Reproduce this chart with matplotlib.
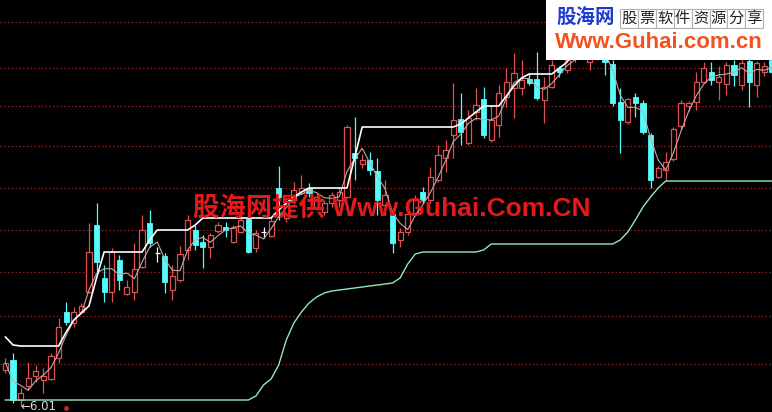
import numpy as np
import pandas as pd
import matplotlib
matplotlib.use("Agg")
import matplotlib.pyplot as plt
from matplotlib.patches import Rectangle

# daily bars: open, high, low, close
opens = [6.37, 6.47, 6.07, 6.21, 6.31, 6.27, 6.28, 6.49, 6.95, 6.84,
         6.95, 7.15, 7.82, 7.29, 7.15, 7.47, 7.13, 7.15, 7.40, 7.84,
         7.54, 7.51, 7.17, 7.27, 7.57, 7.77, 7.65, 7.60, 7.76, 7.80,
         7.65, 7.75, 7.88, 7.59, 7.75, 7.71, 8.19, 7.89, 8.07, 8.14,
         8.19, 8.00, 7.95, 8.04, 8.07, 8.10, 8.54, 8.43, 8.47, 8.36,
         8.02, 7.93, 7.67, 7.75, 7.94, 8.15, 8.07, 8.27, 8.49, 8.72,
         8.88, 8.64, 8.95, 9.08, 8.67, 8.82, 9.10, 9.19, 9.19, 9.28,
         9.28, 9.07, 9.20, 9.39, 9.37, 9.49, 9.55, 9.45, 9.51, 9.57,
         9.43, 9.05, 8.85, 9.10, 9.04, 8.72, 8.30, 8.37, 8.48, 8.81,
         9.01, 9.05, 9.25, 9.35, 9.25, 9.23, 9.42, 9.22, 9.46, 9.22,
         9.35, 9.47]
highs = [6.49, 6.54, 6.19, 6.45, 6.42, 6.39, 6.54, 6.89, 7.05, 7.00,
         7.04, 7.84, 8.04, 7.42, 7.59, 7.52, 7.27, 7.64, 7.92, 7.97,
         7.60, 7.54, 7.42, 7.61, 7.92, 7.82, 7.72, 7.74, 7.85, 7.85,
         7.82, 7.92, 7.90, 7.77, 7.80, 7.90, 8.41, 8.07, 8.25, 8.32,
         8.24, 8.14, 8.07, 8.15, 8.20, 8.82, 8.90, 8.53, 8.55, 8.49,
         8.27, 7.99, 7.79, 7.97, 8.12, 8.20, 8.40, 8.62, 8.67, 9.24,
         9.14, 8.97, 9.19, 9.20, 9.02, 9.22, 9.39, 9.54, 9.47, 9.34,
         9.55, 9.30, 9.47, 9.41, 9.50, 9.65, 9.72, 9.62, 9.67, 9.62,
         9.47, 9.19, 9.09, 9.14, 9.07, 8.74, 8.41, 8.55, 8.80, 9.07,
         9.06, 9.35, 9.45, 9.45, 9.41, 9.45, 9.47, 9.50, 9.50, 9.46,
         9.45, 9.50]
lows = [6.34, 6.04, 6.01, 6.17, 6.25, 6.14, 6.27, 6.44, 6.82, 6.80,
        6.94, 7.14, 7.35, 7.05, 7.05, 7.17, 7.12, 7.07, 7.39, 7.60,
        7.45, 7.14, 7.07, 7.25, 7.47, 7.57, 7.39, 7.49, 7.74, 7.70,
        7.64, 7.74, 7.54, 7.55, 7.69, 7.70, 7.87, 7.85, 8.03, 8.13,
        8.10, 7.97, 7.92, 8.00, 8.00, 8.09, 8.27, 8.39, 8.32, 7.92,
        7.92, 7.54, 7.60, 7.72, 7.91, 8.04, 8.04, 8.25, 8.35, 8.49,
        8.62, 8.62, 8.87, 8.69, 8.65, 8.70, 9.00, 8.89, 9.12, 9.22,
        9.07, 8.84, 9.19, 9.30, 9.34, 9.45, 9.51, 9.37, 9.47, 9.32,
        9.01, 8.54, 8.83, 8.90, 8.73, 8.19, 8.29, 8.27, 8.46, 8.77,
        8.96, 8.97, 9.24, 9.22, 9.07, 9.12, 9.21, 9.17, 9.00, 9.10,
        9.31, 9.32]
closes = [6.44, 6.07, 6.14, 6.29, 6.36, 6.31, 6.51, 6.80, 6.85, 6.95,
          7.01, 7.55, 7.45, 7.15, 7.55, 7.27, 7.20, 7.38, 7.77, 7.64,
          7.54, 7.25, 7.31, 7.53, 7.87, 7.62, 7.60, 7.72, 7.82, 7.77,
          7.79, 7.87, 7.55, 7.74, 7.75, 7.86, 8.10, 8.02, 8.17, 8.19,
          8.14, 8.10, 8.04, 8.12, 8.15, 8.80, 8.49, 8.47, 8.37, 8.07,
          8.12, 7.64, 7.75, 7.93, 8.07, 8.07, 8.30, 8.52, 8.57, 8.87,
          8.75, 8.89, 9.02, 8.72, 8.87, 9.14, 9.25, 9.34, 9.27, 9.24,
          9.09, 9.20, 9.42, 9.35, 9.47, 9.59, 9.67, 9.55, 9.62, 9.45,
          9.04, 8.87, 9.08, 9.04, 8.75, 8.27, 8.39, 8.45, 8.78, 9.04,
          9.04, 9.25, 9.39, 9.27, 9.30, 9.42, 9.32, 9.44, 9.25, 9.44,
          9.41, 9.35]

# upper stepped line (white) and lower stepped line (green)
upper = ([6.70, 6.62] + [6.61] * 6 + [6.75, 6.87, 6.94, 7.01, 7.29]
         + [7.55] * 6 + [7.67] + [7.77] * 5 + [7.82] + [7.89] * 10
         + [7.97, 8.04, 8.10, 8.15] + [8.19] * 6 + [8.49] + [8.80] * 13
         + [8.83, 8.89, 8.95] + [9.01] * 3 + [9.11, 9.21, 9.29] + [9.33] * 4
         + [9.39, 9.45] + [9.57] * 27)
lower = ([6.07] * 33 + [6.11, 6.22, 6.28, 6.42, 6.67, 6.84, 6.95, 7.04,
         7.10, 7.14, 7.16, 7.17, 7.18, 7.19, 7.20, 7.21, 7.22, 7.23,
         7.24, 7.29, 7.43, 7.53] + [7.55] * 8 + [7.57] + [7.63] * 17
         + [7.67, 7.75, 7.87, 8.00, 8.10, 8.19] + [8.26] * 15)

grid_levels = [9.85, 9.39, 9.01, 8.61, 8.19, 7.77, 7.35, 6.91, 6.43]
low_mark = "\u21906.01"

W, H = 772, 412
fig = plt.figure(figsize=(W / 100, H / 100), dpi=100, facecolor="black")
ax = fig.add_axes([0, 0, 1, 1])
ax.set_facecolor("black")
ax.set_xlim(-0.72, 101.0)
ax.set_ylim(5.95, 10.07)
ax.axis("off")

for g in grid_levels:
    ax.axhline(g, color="#8c1c1c", lw=0.9, ls=(0, (1.3, 1.7)), zorder=1)

idx = np.arange(len(closes))
o = np.array(opens); c = np.array(closes)
h = np.array(highs); l = np.array(lows)
up = c > o
down = c < o
flat = c == o
red = "#e05050"
cyan = "#54fcfc"
bw = 0.68

ax.vlines(idx[up], l[up], h[up], color=red, lw=0.9, zorder=2)
ax.bar(idx[up], (c - o)[up], bottom=o[up], width=bw, facecolor="black",
       edgecolor=red, linewidth=0.9, zorder=3)
ax.vlines(idx[down], l[down], h[down], color=cyan, lw=0.9, zorder=2)
ax.bar(idx[down], (o - c)[down], bottom=c[down], width=bw, facecolor=cyan,
       edgecolor=cyan, linewidth=0.6, zorder=3)
ax.vlines(idx[flat], l[flat], h[flat], color="white", lw=0.9, zorder=2)
ax.hlines(c[flat], idx[flat] - bw / 2, idx[flat] + bw / 2, color="white",
          lw=0.9, zorder=3)

ma3 = pd.Series(closes).rolling(3, min_periods=1).mean()
ax.plot(idx, ma3, color="#c0a8a8", lw=0.8, zorder=4)
ax.plot(idx, upper, color="white", lw=1.2, zorder=4)
ax.plot(idx, lower, color="#93e8bb", lw=1.0, zorder=4)
ax.plot([8], [5.99], "o", ms=2.5, color="#d02020", zorder=5)

fig.text(20 / W, 1 - 407 / H, low_mark, color="#d8d8d8", fontsize=8.5,
         va="center", ha="left", family=["DejaVu Sans"])

# watermark
fig.text(392 / W, 1 - 208 / H, "股海网提供 Www.Guhai.Com.CN", color="#e41a1a",
         fontsize=19, fontweight="bold", ha="center", va="center",
         family=["Liberation Sans", "Noto Sans CJK SC"], zorder=10)

# logo box top right
lg = fig.add_axes([546 / W, 1 - 60 / H, (W - 546) / W, 60 / H])
lg.set_xlim(546, W)
lg.set_ylim(60, 0)
lg.set_facecolor("white")
lg.set_xticks([]); lg.set_yticks([])
for s in lg.spines.values():
    s.set_visible(False)
lg.text(556, 18, "股海网", color="#1d3cd4", fontsize=14, fontweight="bold",
        ha="left", va="center", family=["Noto Sans CJK SC"])
tag = "股票软件资源分享"
for k, ch in enumerate(tag):
    x0 = 620 + k * 17.9
    lg.add_patch(Rectangle((x0, 9), 17.9, 19, facecolor="white",
                           edgecolor="#b0b0b0", lw=0.8))
    lg.text(x0 + 8.95, 18.5, ch, color="#202020", fontsize=11,
            ha="center", va="center", family=["Noto Sans CJK SC"])
lg.text(555, 43, "Www.Guhai.com.cn", color="#f4521c", fontsize=16,
        fontweight="bold", ha="left", va="center",
        family=["Liberation Sans", "DejaVu Sans"])

fig.savefig("out.png", dpi=100, facecolor="black")
